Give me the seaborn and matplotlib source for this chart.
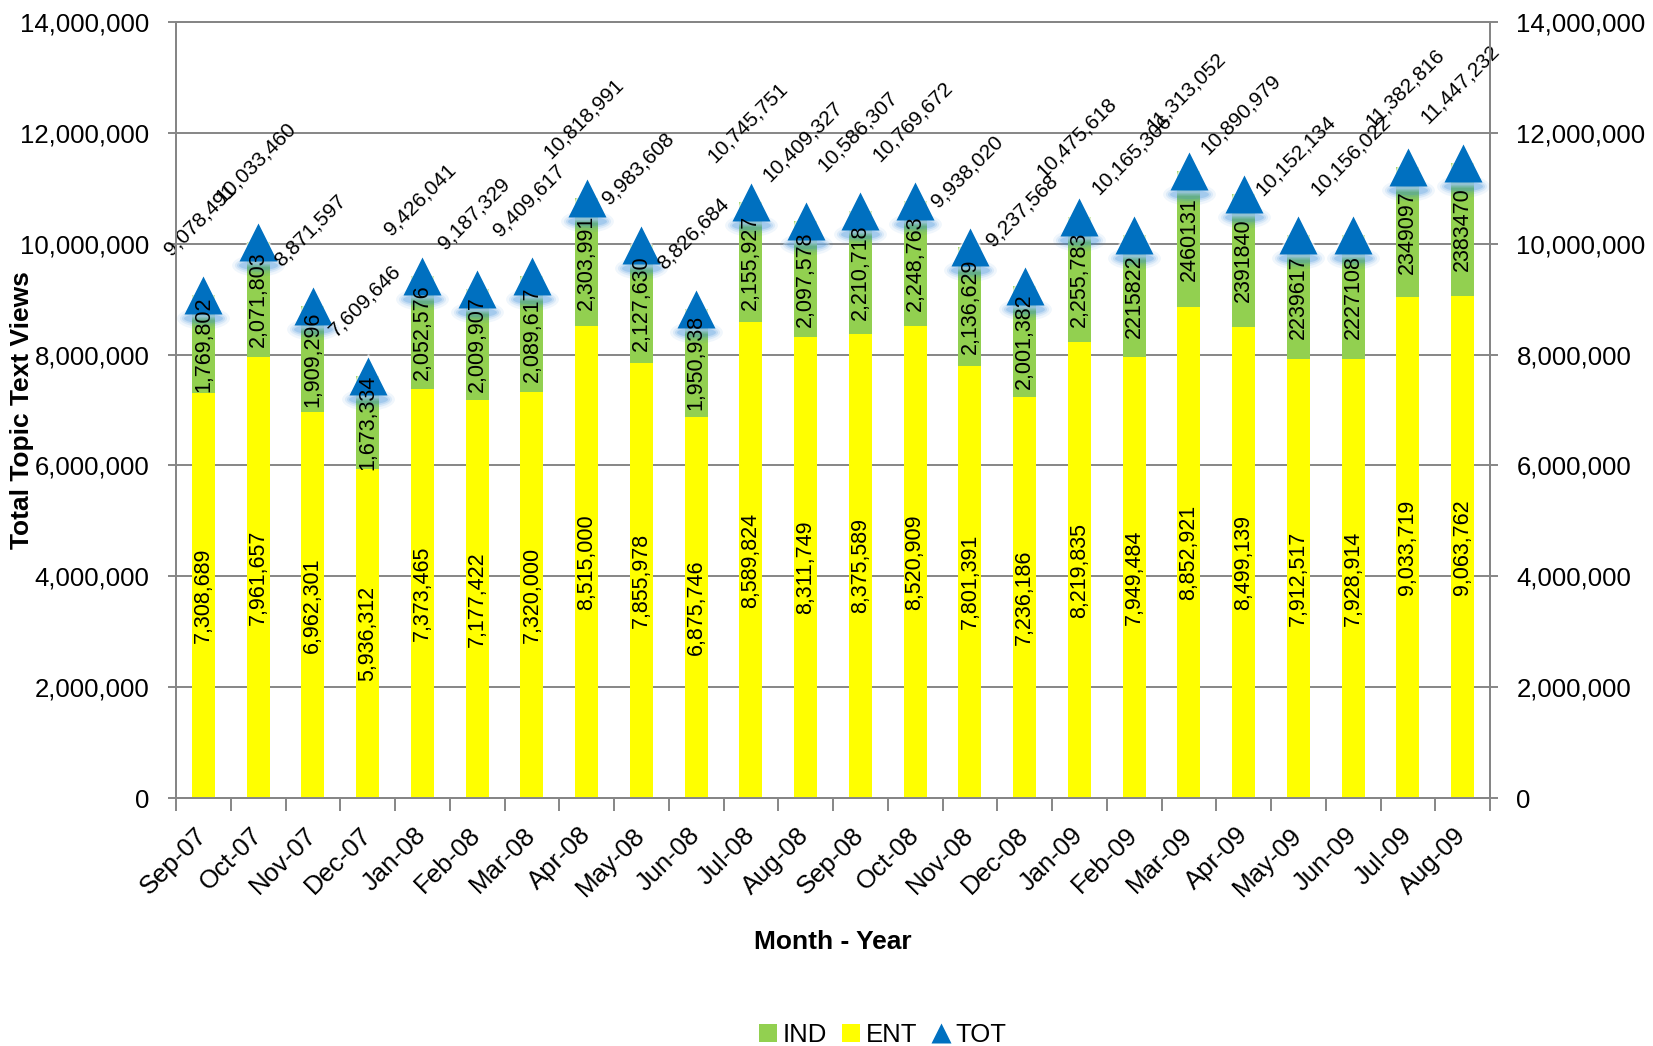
import numpy as np
import pandas as pd
import seaborn as sns
import matplotlib
matplotlib.use("Agg")
import matplotlib.pyplot as plt
import matplotlib.transforms as mtrans
from matplotlib.markers import MarkerStyle
from matplotlib.ticker import FuncFormatter, MultipleLocator
from matplotlib.lines import Line2D
from matplotlib.patches import Patch

months = ["Sep-07", "Oct-07", "Nov-07", "Dec-07", "Jan-08", "Feb-08", "Mar-08", "Apr-08",
          "May-08", "Jun-08", "Jul-08", "Aug-08", "Sep-08", "Oct-08", "Nov-08", "Dec-08",
          "Jan-09", "Feb-09", "Mar-09", "Apr-09", "May-09", "Jun-09", "Jul-09", "Aug-09"]
ent = [7308689, 7961657, 6962301, 5936312, 7373465, 7177422, 7320000, 8515000,
       7855978, 6875746, 8589824, 8311749, 8375589, 8520909, 7801391, 7236186,
       8219835, 7949484, 8852921, 8499139, 7912517, 7928914, 9033719, 9063762]
ind = [1769802, 2071803, 1909296, 1673334, 2052576, 2009907, 2089617, 2303991,
       2127630, 1950938, 2155927, 2097578, 2210718, 2248763, 2136629, 2001382,
       2255783, 2215822, 2460131, 2391840, 2239617, 2227108, 2349097, 2383470]
tot = [9078491, 10033460, 8871597, 7609646, 9426041, 9187329, 9409617, 10818991,
       9983608, 8826684, 10745751, 10409327, 10586307, 10769672, 9938020, 9237568,
       10475618, 10165306, 11313052, 10890979, 10152134, 10156022, 11382816, 11447232]
# IND labels from Feb-09 on are shown without thousands separators
ind_sep = [True] * 17 + [False] * 7

GREEN = "#92D050"
YELLOW = "#FFFF00"
BLUE = "#0070C0"
GRAY = "#868686"

sns.set_theme(style="white")
plt.rcParams["font.family"] = ["Liberation Sans", "DejaVu Sans"]
plt.rcParams["text.color"] = "black"
plt.rcParams["axes.labelcolor"] = "black"
plt.rcParams["xtick.color"] = "black"
plt.rcParams["ytick.color"] = "black"

fig = plt.figure(figsize=(16.53, 10.46), dpi=100)
ax = fig.add_axes([176 / 1653, 1 - 798 / 1046, (1490 - 176) / 1653, (798 - 22) / 1046])

df = pd.DataFrame({"Month": months, "ENT": ent, "IND": ind, "TOT": tot})
df["STACK"] = df["ENT"] + df["IND"]

sns.barplot(data=df, x="Month", y="STACK", color=GREEN, saturation=1, width=0.42,
            linewidth=0, ax=ax, zorder=2)
sns.barplot(data=df, x="Month", y="ENT", color=YELLOW, saturation=1, width=0.42,
            linewidth=0, ax=ax, zorder=3)

x = np.arange(len(months))
# soft white halo around the triangle sides, then blue glow below the base
for ms, a in [(34, 0.35), (31, 0.6)]:
    ax.plot(x, df["TOT"], ls="none", marker="^", ms=ms, color="white", alpha=a,
            mec="none", zorder=4)
glow_off = mtrans.ScaledTranslation(0, -23 / 100, fig.dpi_scale_trans)
for ms, sy, a in [(38, 0.42, 0.07), (34, 0.36, 0.10), (31, 0.30, 0.14), (28, 0.24, 0.20)]:
    m = MarkerStyle("o", transform=mtrans.Affine2D().scale(1.0, sy))
    ax.plot(x, df["TOT"], ls="none", marker=m, ms=ms, color="#2b86d6", alpha=a,
            mec="none", zorder=4, transform=ax.transData + glow_off)
ax.plot(x, df["TOT"], ls="none", marker="^", ms=28, color=BLUE, mec="none", zorder=5)

# data labels
for i in range(len(months)):
    ax.text(i, ent[i] / 2, f"{ent[i]:,}", rotation=90, ha="center", va="center",
            fontsize=15.5, color="black", zorder=10)
    lab = f"{ind[i]:,}" if ind_sep[i] else f"{ind[i]}"
    ax.text(i, ent[i] + ind[i] / 2, lab, rotation=90, ha="center", va="center",
            fontsize=15.5, color="black", zorder=10)
    ax.annotate(f"{tot[i]:,}", (i, tot[i]), xytext=(-2, 26), textcoords="offset points",
                rotation=45, ha="center", va="bottom", fontsize=15, color="black", zorder=10)

fmt = FuncFormatter(lambda v, _: f"{int(v):,}")
ax.set_ylim(0, 14_000_000)
ax.set_xlim(-0.5, len(months) - 0.5)
ax.yaxis.set_major_locator(MultipleLocator(2_000_000))
ax.yaxis.set_major_formatter(fmt)
ax.yaxis.grid(True, color=GRAY, lw=1.4)
ax.set_axisbelow(True)
for s in ax.spines.values():
    s.set_color(GRAY)
    s.set_linewidth(1.4)

ax.set_xticks(x)
ax.set_xticklabels(months, rotation=45, ha="right", rotation_mode="anchor", va="center")
ax.set_xticks(np.arange(-0.5, len(months), 1), minor=True)
ax.tick_params(axis="x", which="major", length=0, pad=24, labelsize=18.5)
ax.tick_params(axis="x", which="minor", length=9, width=1.4, color=GRAY, direction="out",
               bottom=True)
ax.tick_params(axis="y", length=6, width=1.4, color=GRAY, direction="out", left=True,
               pad=13, labelsize=18.5)

ax.set_xlabel("Month - Year", fontsize=19, fontweight="bold")
ax.xaxis.set_label_coords(0.5, -0.170)
ax.set_ylabel("Total Topic Text Views", fontsize=19, fontweight="bold")
ax.yaxis.set_label_coords(-0.108, 0.5)

ax2 = ax.twinx()
ax2.set_ylim(0, 14_000_000)
ax2.yaxis.set_major_locator(MultipleLocator(2_000_000))
ax2.yaxis.set_major_formatter(fmt)
ax2.tick_params(axis="y", length=6, width=1.4, color=GRAY, direction="out", right=True,
                pad=13, labelsize=18.5)
for s in ax2.spines.values():
    s.set_color(GRAY)
    s.set_linewidth(1.4)
ax2.grid(False)

handles = [Patch(facecolor=GREEN, edgecolor="none"),
           Patch(facecolor=YELLOW, edgecolor="none"),
           Line2D([], [], ls="none", marker="^", ms=14, color=BLUE, mec="none")]
fig.legend(handles, ["IND", "ENT", "TOT"], loc="center",
           bbox_to_anchor=(883 / 1653, 1 - 1035 / 1046), ncol=3, frameon=False,
           fontsize=18.5, handlelength=0.7, handleheight=0.7, handletextpad=0.2,
           columnspacing=0.6)

fig.savefig("out.png", dpi=100)
